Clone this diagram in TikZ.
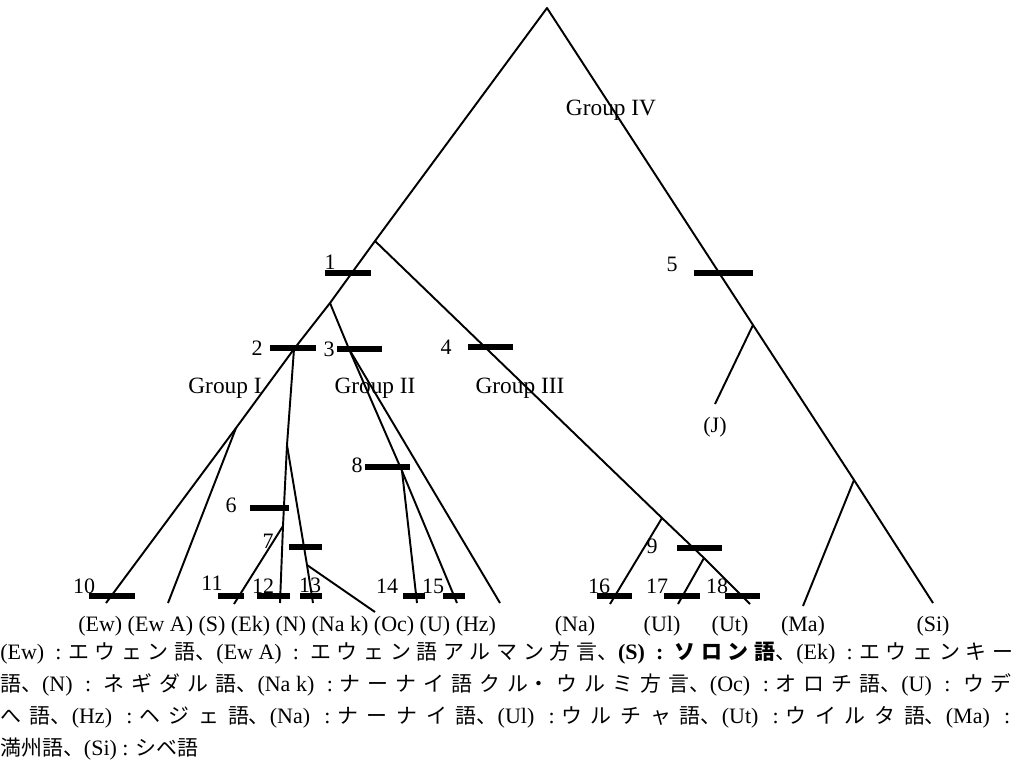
\documentclass[tikz,border=0pt]{standalone}
\usepackage{fontspec}
\setmainfont{Liberation Serif}
\newfontfamily\jp{Noto Sans CJK JP}
\newcommand\J[1]{{\jp\fontsize{15.7}{18}\selectfont #1}}
\newcommand\fs{\hspace{0.25em}}
\newcommand\capsetup{\XeTeXlinebreaklocale "ja"\XeTeXlinebreakskip=0pt plus 1fil\relax
  \parfillskip=0pt\relax\parindent=0pt\relax\tolerance=10000\relax\hbadness=10000\relax
  \fontsize{16.5}{20}\selectfont\spaceskip=0.25em plus 1fil\relax}
\tikzset{
  edge/.style={line width=1.45pt, line join=round},
  barn/.style={fill=black, draw=none, inner sep=0pt, minimum height=3.9pt, minimum width=#1*0.75pt},
  num/.style={inner sep=0pt, font=\fontsize{16.5}{18}\selectfont},
  grp/.style={inner sep=0pt, font=\fontsize{17.5}{20}\selectfont},
  leaf/.style={inner sep=0pt, anchor=base, font=\fontsize{16.5}{18}\selectfont},
  capline/.style={anchor=base west, inner sep=0pt, text width=764pt},
}
\begin{document}
\begin{tikzpicture}[x=0.75pt, y=-0.75pt]
\useasboundingbox (0,0) rectangle (1030,779);
% junctions and ends
\coordinate (root) at (547,8);
\coordinate (A) at (375,241);
\coordinate (B) at (330,303);
\coordinate (C) at (294,349);
\coordinate (D) at (236,428);
\coordinate (E) at (287,445);
\coordinate (F) at (283,526);
\coordinate (G) at (307,565);
\coordinate (H) at (349,349);
\coordinate (I) at (402,471);
\coordinate (Jn) at (662,518);
\coordinate (Kn) at (704,558);
\coordinate (L) at (753,325);
\coordinate (M) at (854,480);
\coordinate (EwEnd) at (106,603);
\coordinate (EwAEnd) at (168,603);
\coordinate (SEnd) at (234,604);
\coordinate (EkEnd) at (280,603);
\coordinate (NEnd) at (313,603);
\coordinate (NakEnd) at (375,612);
\coordinate (OcEnd) at (417,603);
\coordinate (UEnd) at (457,603);
\coordinate (HzEnd) at (500,603);
\coordinate (NaEnd) at (610,604);
\coordinate (UlEnd) at (678,604);
\coordinate (UtEnd) at (750,604);
\coordinate (JEnd) at (715,404);
\coordinate (MaEnd) at (803,606);
\coordinate (SiEnd) at (933,603);
% connectors
\draw[edge] (EwEnd) -- (D) -- (C) -- (B) -- (A) -- (root) -- (L) -- (M) -- (SiEnd);
\draw[edge] (D) -- (EwAEnd);
\draw[edge] (C) -- (E) -- (F) -- (EkEnd);
\draw[edge] (E) -- (G) -- (NEnd);
\draw[edge] (F) -- (SEnd);
\draw[edge] (G) -- (NakEnd);
\draw[edge] (B) -- (H) -- (I) -- (OcEnd);
\draw[edge] (I) -- (UEnd);
\draw[edge] (H) -- (HzEnd);
\draw[edge] (A) -- (Jn) -- (Kn) -- (UtEnd);
\draw[edge] (Jn) -- (NaEnd);
\draw[edge] (Kn) -- (UlEnd);
\draw[edge] (L) -- (JEnd);
\draw[edge] (M) -- (MaEnd);
% bars
\node[barn=46] (b1) at (348,273) {};
\node[barn=46] (b2) at (293,348) {};
\node[barn=45] (b3) at (359.5,349) {};
\node[barn=45] (b4) at (490.5,347) {};
\node[barn=59] (b5) at (723.5,273) {};
\node[barn=39] (b6) at (269.5,508) {};
\node[barn=33] (b7) at (305.5,547) {};
\node[barn=45] (b8) at (387.5,467) {};
\node[barn=45] (b9) at (699.5,548) {};
\node[barn=46] (b10) at (112,596) {};
\node[barn=26] (b11) at (231,596) {};
\node[barn=33] (b12) at (273.5,596) {};
\node[barn=22] (b13) at (311,596) {};
\node[barn=22] (b14) at (414,596) {};
\node[barn=22] (b15) at (454,596) {};
\node[barn=35] (b16) at (614.5,596) {};
\node[barn=36] (b17) at (682,596) {};
\node[barn=35] (b18) at (742.5,596) {};
% numbers
\node[num] (n1) at (330,262) {1};
\node[num] (n2) at (257,348) {2};
\node[num] (n3) at (329,349) {3};
\node[num] (n4) at (446,347) {4};
\node[num] (n5) at (672,264) {5};
\node[num] (n6) at (231,505) {6};
\node[num] (n7) at (268,541) {7};
\node[num] (n8) at (357,465) {8};
\node[num] (n9) at (652,546) {9};
\node[num] (n10) at (84,586) {10};
\node[num] (n11) at (212,583) {11};
\node[num] (n12) at (263,586) {12};
\node[num] (n13) at (310,585) {13};
\node[num] (n14) at (387,586) {14};
\node[num] (n15) at (433,586) {15};
\node[num] (n16) at (599,586) {16};
\node[num] (n17) at (657,586) {17};
\node[num] (n18) at (717,586) {18};
% groups
\node[grp] (g1) at (225,388) {Group I};
\node[grp] (g2) at (375,388) {Group II};
\node[grp] (g3) at (520,388) {Group III};
\node[grp] (g4) at (611,110) {Group IV};
\node[leaf] (lJ) at (715,432) {(J)};
% leaf labels
\node[leaf, anchor=base west] (row) at (78,631) {(Ew) (Ew A) (S) (Ek) (N) (Na k) (Oc) (U) (Hz)};
\node[leaf] (lNa) at (575,631) {(Na)};
\node[leaf] (lUl) at (662,631) {(Ul)};
\node[leaf] (lUt) at (730,631) {(Ut)};
\node[leaf] (lMa) at (803,631) {(Ma)};
\node[leaf] (lSi) at (933,631) {(Si)};
% caption
\node[capline] (c1) at (0,659) {\capsetup (Ew) : \J{エウェン語、}(Ew\fs A) : \J{エウェン語アルマン方言、}\textbf{(S) : \J{ソロン語}}\J{、}(Ek) : \J{エウェンキー}};
\node[capline] (c2) at (0,691) {\capsetup \J{語、}(N) : \J{ネギダル語、}(Na\fs k) : \J{ナーナイ語クル・ウルミ方言、}(Oc) : \J{オロチ語、}(U) : \J{ウデ}};
\node[capline] (c3) at (0,723) {\capsetup \J{へ語、}(Hz) : \J{ヘジェ語、}(Na) : \J{ナーナイ語、}(Ul) : \J{ウルチャ語、}(Ut) : \J{ウイルタ語、}(Ma) :};
\node[anchor=base west, inner sep=0pt, font=\fontsize{16.5}{20}\selectfont] (c4) at (0,755) {\J{満州語、}(Si) : \J{シベ語}};
\end{tikzpicture}
\end{document}
